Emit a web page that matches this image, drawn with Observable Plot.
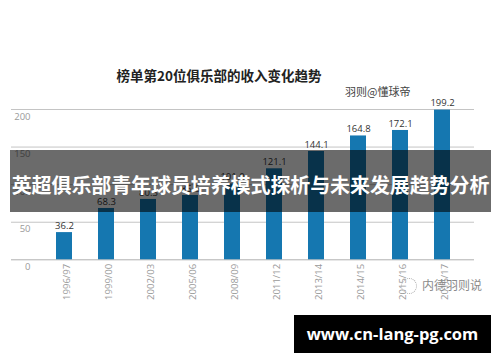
<!DOCTYPE html>
<html><head><meta charset="utf-8">
<script src="https://cdn.jsdelivr.net/npm/d3@7"></script>
<script src="https://cdn.jsdelivr.net/npm/@observablehq/plot@0.6"></script>
<style>
body{margin:0;background:#fff;font-family:"Noto Sans CJK SC","Noto Sans",sans-serif;}
#wrap{position:relative;width:500px;height:362px;overflow:hidden;background:#fff;}
#chart{position:absolute;left:0;top:0;}
.abs{position:absolute;white-space:nowrap;}
#title{left:0;width:438px;top:66px;text-align:center;font-size:13.5px;font-weight:bold;color:#222;line-height:18px;}
#credit{left:345px;top:83px;font-size:11px;color:#444;line-height:16px;}
#banner{left:10px;top:150px;width:481px;height:62px;background:rgba(0,0,0,0.58);}
#bannerText{left:10px;top:172px;width:481px;text-align:center;font-size:20px;font-weight:bold;color:#fff;line-height:26px;letter-spacing:-0.1px;}
#wm{left:422px;top:277px;font-size:12px;color:#8a8a8a;line-height:16px;}
#wmIcon{left:401px;top:278px;width:14px;height:14px;border:1px dotted #aaa;border-radius:50%;}
#url{left:294px;top:315px;width:197px;height:38px;background:#000;color:#fff;font-family:"Open Sans","DejaVu Sans",sans-serif;font-weight:bold;font-size:16.5px;line-height:38px;text-align:center;}
</style></head><body>
<div id="wrap">
<div id="chart"></div>
<div class="abs" id="title">榜单第20位俱乐部的收入变化趋势</div>
<div class="abs" id="credit">羽则@懂球帝</div>
<div class="abs" id="wmIcon"></div>
<div class="abs" id="wm">内德羽则说</div>
<div class="abs" id="banner"></div>
<div class="abs" id="bannerText">英超俱乐部青年球员培养模式探析与未来发展趋势分析</div>
<div class="abs" id="url">www.cn-lang-pg.com</div>
</div>
<script>
const seasons = ["1996/97","1999/00","2002/03","2005/06","2008/09","2011/12","2013/14","2014/15","2015/16","2016/17"];
const revenue = [36.2, 68.3, 80.3, 85.6, 101.0, 121.1, 144.1, 164.8, 172.1, 199.2];
const yTicks = [0, 50, 100, 150, 200];

const data = seasons.map((s, i) => ({season: s, value: revenue[i]}));

const chart = Plot.plot({
  width: 500,
  height: 362,
  marginLeft: 11,
  marginRight: 26,
  marginTop: 109,
  marginBottom: 102.7,
  style: {background: "transparent", fontFamily: "'Open Sans', 'DejaVu Sans', sans-serif"},
  x: {domain: seasons, range: [28.3, 477.5], padding: 0.63, axis: null, label: null},
  y: {domain: [0, 200], range: [259.3, 109], axis: null, label: null},
  marks: [
    Plot.gridY(yTicks.filter(d => d > 0), {stroke: "#c4c4c4", strokeOpacity: 1, strokeWidth: 1}),
    Plot.ruleY([0], {stroke: "#b0b0b0", strokeWidth: 1}),
    Plot.barY(data, {x: "season", y: "value", fill: "#1577b0"}),
    Plot.text(data, {x: "season", y: "value", text: d => d.value.toFixed(1), dy: -7, fontSize: 9.5, fill: "#333"}),
    Plot.axisY(yTicks, {anchor: "left", label: null, tickSize: 0, tickPadding: 0, textAnchor: "end", dx: 19, dy: 7, fill: "#9a9a9a", fontSize: 9.5}),
    Plot.axisX({anchor: "bottom", label: null, tickSize: 0, tickPadding: 4, tickRotate: -90, dx: 2, fill: "#9a9a9a", fontSize: 9.5})
  ]
});
document.getElementById("chart").appendChild(chart);
</script>
</body></html>
